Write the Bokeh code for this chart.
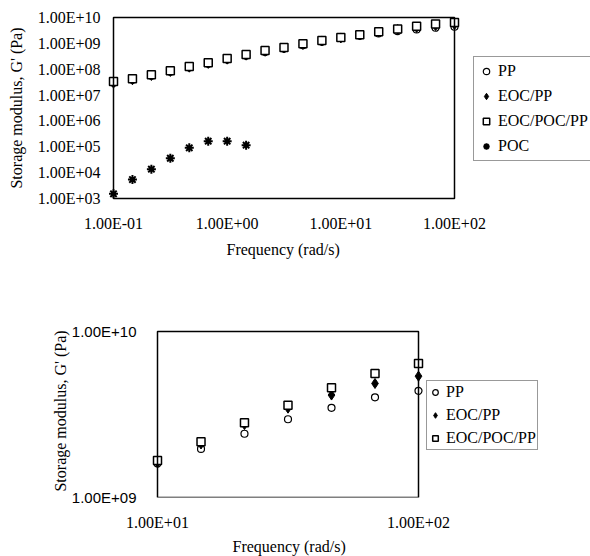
import math

from bokeh.plotting import figure
from bokeh.models import FixedTicker, Legend, LegendItem, Range1d, BoxAnnotation, Title
from bokeh.embed import file_html
from bokeh.resources import INLINE

# Frequency sweep (rad/s), six points per decade
freq = [0.1, 0.1468, 0.2154, 0.3162, 0.4642, 0.6813, 1.0, 1.468, 2.154, 3.162,
        4.642, 6.813, 10.0, 14.68, 21.54, 31.62, 46.42, 68.13, 100.0]

# Storage modulus G' (Pa)
g_pp = [3.0e7, 3.9e7, 5.6e7, 8.0e7, 1.17e8, 1.63e8, 2.35e8, 3.3e8, 4.6e8, 6.2e8,
        8.5e8, 1.15e9, 1.60e9, 1.96e9, 2.42e9, 2.96e9, 3.47e9, 4.01e9, 4.39e9]
g_eoc_pp = [2.9e7, 3.9e7, 5.7e7, 8.2e7, 1.2e8, 1.68e8, 2.45e8, 3.5e8, 5.0e8, 6.6e8,
            9.1e8, 1.24e9, 1.62e9, 2.10e9, 2.75e9, 3.45e9, 4.14e9, 4.86e9, 5.38e9]
g_eoc_poc_pp = [3.35e7, 4.26e7, 6.1e7, 8.7e7, 1.27e8, 1.77e8, 2.6e8, 3.7e8, 5.3e8, 6.9e8,
                9.6e8, 1.29e9, 1.67e9, 2.17e9, 2.82e9, 3.59e9, 4.58e9, 5.58e9, 6.41e9]
freq_poc = [0.1, 0.1468, 0.2154, 0.3162, 0.4642, 0.6813, 1.0, 1.468]
g_poc = [1.52e3, 5.4e3, 1.36e4, 3.6e4, 9.1e4, 1.65e5, 1.65e5, 1.15e5]

# Axis ticks and their labels
top_x_ticks = [0.1, 1.0, 10.0, 100.0]
top_x_labels = ["1.00E-01", "1.00E+00", "1.00E+01", "1.00E+02"]
top_y_ticks = [1e3, 1e4, 1e5, 1e6, 1e7, 1e8, 1e9, 1e10]
top_y_labels = ["1.00E+03", "1.00E+04", "1.00E+05", "1.00E+06",
                "1.00E+07", "1.00E+08", "1.00E+09", "1.00E+10"]
zoom_x_ticks = [10.0, 100.0]
zoom_x_labels = ["1.00E+01", "1.00E+02"]
zoom_y_ticks = [1e9, 1e10]
zoom_y_labels = ["1.00E+09", "1.00E+10"]

x_title = "Frequency (rad/s)"
y_title = "Storage modulus, G' (Pa)"

SERIF = "Liberation Serif"
SANS = "Liberation Sans"


def log_range(lo, hi, length, extra_lo, extra_hi):
    """Log range whose [lo, hi] spans `length` px, widened by extra px on each side."""
    a, b = math.log10(lo), math.log10(hi)
    per_px = (b - a) / length
    return 10 ** (a - extra_lo * per_px), 10 ** (b + extra_hi * per_px)


def make_panel(width, height, xr, yr, box, pads, xt, xl, yt, yl, ytick_font, ytick_size):
    # box = (left, right, top, bottom) of the drawn plot box, in px;
    # pads = (left, top, bottom) room kept around it so edge markers stay whole.
    # The frame runs on to the right edge so the legend sits inside it.
    left, right, top, bottom = box
    pl, pt, pb = pads
    p = figure(width=width, height=height, x_axis_type="log", y_axis_type="log",
               x_range=Range1d(*log_range(xr[0], xr[1], right - left, pl, width - right)),
               y_range=Range1d(*log_range(yr[0], yr[1], bottom - top, pb, pt)),
               output_backend="svg", toolbar_location=None,
               min_border_left=left - pl, min_border_right=0,
               min_border_top=top - pt, min_border_bottom=height - bottom - pb)
    p.grid.visible = False
    p.outline_line_color = None
    p.add_layout(BoxAnnotation(left=xr[0], right=xr[1], bottom=yr[0], top=yr[1],
                               fill_alpha=0, line_color="black", line_alpha=1.0,
                               line_width=1.5))
    p.xaxis.ticker = FixedTicker(ticks=xt)
    p.yaxis.ticker = FixedTicker(ticks=yt)
    p.xaxis.major_label_overrides = dict(zip(xt, xl))
    p.yaxis.major_label_overrides = dict(zip(yt, yl))
    for ax in (p.xaxis[0], p.yaxis[0]):
        ax.axis_line_color = None
        ax.major_tick_line_color = None
        ax.minor_tick_line_color = None
        ax.major_tick_out = 0
        ax.major_tick_in = 0
        ax.minor_tick_out = 0
        ax.minor_tick_in = 0
        ax.axis_label_text_font = SERIF
        ax.axis_label_text_font_size = "16px"
        ax.axis_label_text_font_style = "normal"
        ax.axis_label_text_color = "black"
        ax.major_label_text_color = "black"
    p.xaxis.major_label_text_font = SERIF
    p.xaxis.major_label_text_font_size = "16px"
    p.yaxis.major_label_text_font = ytick_font
    p.yaxis.major_label_text_font_size = ytick_size
    p.yaxis.axis_label = y_title
    return p


def add_x_title(p, offset, standoff):
    t = Title(text=x_title, align="left", offset=offset, standoff=standoff,
              text_font=SERIF, text_font_size="16px", text_font_style="normal",
              text_color="black")
    p.add_layout(t, "below")


def draw_series(p, x_vals, pp, eoc, eocpoc):
    r_pp = p.scatter(x_vals, pp, marker="circle", size=7, fill_color="white",
                     line_color="black", line_width=1.2)
    r_eoc = p.scatter(x_vals, eoc, marker="diamond", size=10, fill_color="black",
                      line_color="black", line_width=1)
    r_sq = p.scatter(x_vals, eocpoc, marker="square", size=8, fill_color="white",
                     line_color="black", line_width=1.5)
    return r_pp, r_eoc, r_sq


def style_legend(leg, pad, spacing, gw):
    leg.margin = 0
    leg.padding = pad
    leg.spacing = spacing
    leg.glyph_width = gw
    leg.glyph_height = 20
    leg.label_height = 20
    leg.label_standoff = 4
    leg.label_text_font = SERIF
    leg.label_text_font_size = "16px"
    leg.label_text_color = "black"
    leg.border_line_color = "#999999"
    leg.border_line_alpha = 1.0
    leg.border_line_width = 1
    leg.background_fill_color = "white"


# Full frequency range
top = make_panel(590, 275, (0.1, 100.0), (1e3, 1e10), (113, 454, 17, 198), (7, 7, 7),
                 top_x_ticks, top_x_labels, top_y_ticks, top_y_labels, SERIF, "16px")
top.xaxis.major_label_standoff = 9
top.yaxis.major_label_standoff = 6
top.yaxis.axis_label_standoff = 10
add_x_title(top, 120, 9)
t_pp, t_eoc, t_sq = draw_series(top, freq, g_pp, g_eoc_pp, g_eoc_poc_pp)
t_poc = top.scatter(freq_poc, g_poc, marker="asterisk", size=9, line_color="black",
                    line_width=2)
leg_top = Legend(items=[LegendItem(label="PP", renderers=[t_pp]),
                        LegendItem(label="EOC/PP", renderers=[t_eoc]),
                        LegendItem(label="EOC/POC/PP", renderers=[t_sq]),
                        LegendItem(label="POC", renderers=[t_poc])],
                 location=(367, 44))
style_legend(leg_top, 4, 5, 16)
top.add_layout(leg_top)

# High-frequency detail
zoom = make_panel(590, 281, (10.0, 100.0), (1e9, 1e10), (157, 418, 56, 223), (7, 7, 0),
                  zoom_x_ticks, zoom_x_labels, zoom_y_ticks, zoom_y_labels, SANS, "15px")
zoom.xaxis.major_label_standoff = 16
zoom.yaxis.major_label_standoff = 14
zoom.yaxis.axis_label_standoff = 0
add_x_title(zoom, 82, 4)
z_pp, z_eoc, z_sq = draw_series(zoom, freq[12:], g_pp[12:], g_eoc_pp[12:], g_eoc_poc_pp[12:])
leg_zoom = Legend(items=[LegendItem(label="PP", renderers=[z_pp]),
                         LegendItem(label="EOC/PP", renderers=[z_eoc]),
                         LegendItem(label="EOC/POC/PP", renderers=[z_sq])],
                  location=(276, 47))
style_legend(leg_zoom, 1, 3, 14)
zoom.add_layout(leg_zoom)

open("out.html", "w").write(file_html([top, zoom], INLINE))
